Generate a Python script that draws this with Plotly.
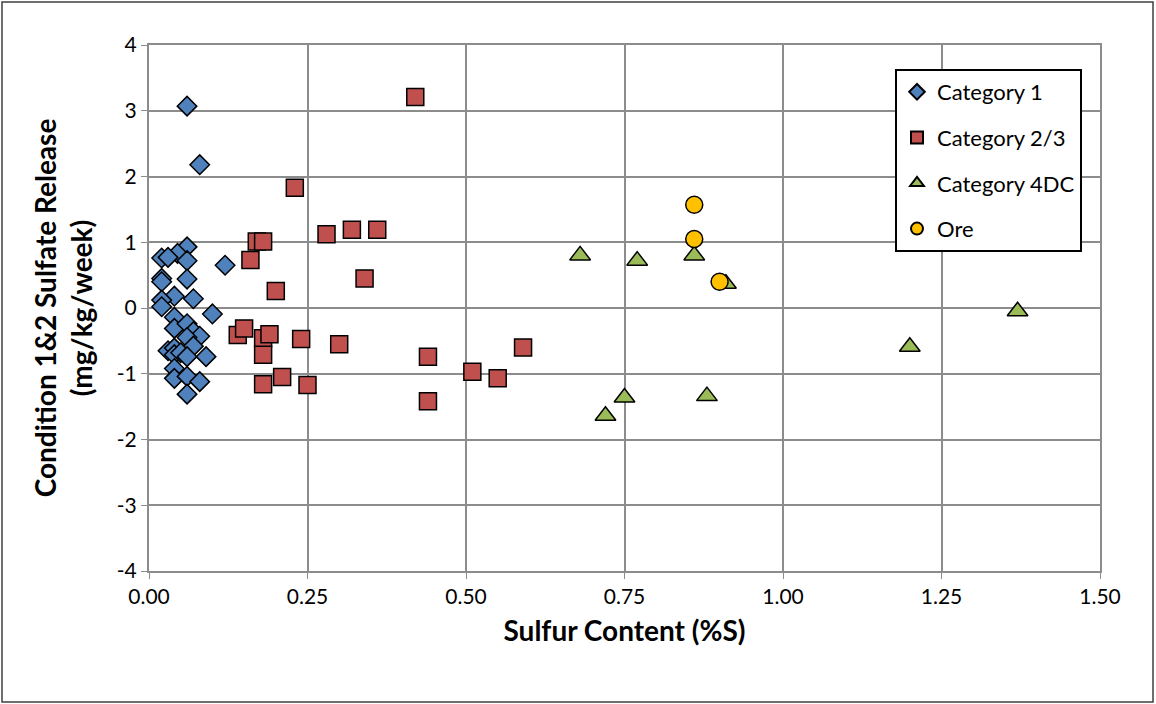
import plotly.graph_objects as go

cat1_x = [0.06, 0.08, 0.06, 0.045, 0.06, 0.02, 0.03, 0.02, 0.02, 0.06, 0.12, 0.04, 0.02, 0.02, 0.07,
          0.10, 0.04, 0.04, 0.06, 0.07, 0.08, 0.06, 0.07, 0.03, 0.04, 0.04, 0.05, 0.06, 0.09,
          0.04, 0.04, 0.06, 0.08, 0.06]
cat1_y = [3.07, 2.18, 0.93, 0.83, 0.72, 0.76, 0.77, 0.45, 0.40, 0.44, 0.65, 0.18, 0.12, 0.02, 0.14,
          -0.09, -0.14, -0.31, -0.24, -0.36, -0.43, -0.45, -0.58, -0.65, -0.61, -0.71, -0.68, -0.74, -0.74,
          -0.92, -1.07, -1.04, -1.12, -1.31]

cat23_x = [0.42, 0.23, 0.17, 0.18, 0.16, 0.28, 0.32, 0.36, 0.20, 0.34, 0.14, 0.15, 0.18, 0.19,
           0.18, 0.24, 0.30, 0.18, 0.21, 0.25, 0.44, 0.44, 0.51, 0.55, 0.59]
cat23_y = [3.21, 1.83, 1.01, 1.01, 0.73, 1.12, 1.19, 1.19, 0.26, 0.45, -0.41, -0.31, -0.46, -0.40,
           -0.71, -0.47, -0.55, -1.16, -1.05, -1.17, -0.74, -1.42, -0.97, -1.07, -0.60]

cat4_x = [0.68, 0.77, 0.86, 0.91, 0.72, 0.75, 0.88, 1.20, 1.37]
cat4_y = [0.80, 0.72, 0.80, 0.37, -1.64, -1.36, -1.34, -0.59, -0.05]

ore_x = [0.86, 0.86, 0.90]
ore_y = [1.57, 1.05, 0.40]

x_ticks = [0, 0.25, 0.5, 0.75, 1.0, 1.25, 1.5]
x_labels = ["0.00", "0.25", "0.50", "0.75", "1.00", "1.25", "1.50"]
y_ticks = [-4, -3, -2, -1, 0, 1, 2, 3, 4]
y_labels = ["-4", "-3", "-2", "-1", "0", "1", "2", "3", "4"]

FONT = "Lato, Carlito, Calibri, 'Liberation Sans', sans-serif"
line = dict(color="black", width=1.5)

fig = go.Figure()
fig.add_trace(go.Scatter(x=cat1_x, y=cat1_y, mode="markers", name="Category 1", legendgroup="a",
                         marker=dict(symbol="diamond", size=15, color="#4F81BD", line=line)))
fig.add_trace(go.Scatter(x=cat23_x, y=cat23_y, mode="markers", name="Category 2/3", legendgroup="b",
                         marker=dict(symbol="square", size=17, color="#C0504D", line=line)))
fig.add_trace(go.Scatter(x=cat4_x, y=cat4_y, mode="markers", name="Category 4DC", legendgroup="c",
                         marker=dict(symbol="triangle-up", size=18, color="#9BBB59", line=line)))
fig.add_trace(go.Scatter(x=ore_x, y=ore_y, mode="markers", name="Ore", legendgroup="d",
                         marker=dict(symbol="circle", size=17, color="#FFC000", line=line)))

W, H = 1156, 704
L, R, T, B = 149, 1100, 45, 571
pw, ph = R - L, B - T

def px(xp):
    return (xp - L) / pw

def py(yp):
    return (B - yp) / ph

fig.update_layout(
    width=W, height=H,
    margin=dict(l=L, r=W - R, t=T, b=H - B),
    paper_bgcolor="white", plot_bgcolor="white",
    font=dict(family=FONT, size=21, color="black"),
    showlegend=True,
    legend=dict(x=px(895), y=py(69), xanchor="left", yanchor="top",
                bordercolor="black", borderwidth=2, bgcolor="white",
                font=dict(family=FONT, size=22, color="black"),
                tracegroupgap=14, itemsizing="constant", itemwidth=30),
    xaxis=dict(range=[0, 1.5], tickvals=x_ticks, ticktext=x_labels,
               showgrid=True, gridcolor="#8c8c8c", gridwidth=1.5,
               zeroline=False, showline=True, linecolor="#8c8c8c", linewidth=2, mirror=True,
               ticks="outside", ticklen=6, tickcolor="#8c8c8c",
               tickfont=dict(family=FONT, size=21),
               title=dict(text="<b>Sulfur Content (%S)</b>", font=dict(family=FONT, size=28), standoff=14)),
    yaxis=dict(range=[-4, 4], tickvals=y_ticks, ticktext=y_labels,
               showgrid=True, gridcolor="#8c8c8c", gridwidth=1.5,
               zeroline=False, showline=True, linecolor="#8c8c8c", linewidth=2, mirror=True,
               ticks="outside", ticklen=6, tickcolor="#8c8c8c",
               tickfont=dict(family=FONT, size=21),
               title=dict(text="<b>Condition 1&2 Sulfate Release<br>(mg/kg/week)</b>",
                          font=dict(family=FONT, size=28), standoff=16)),
    shapes=[dict(type="rect", xref="paper", yref="paper",
                 x0=px(2), x1=px(1153), y0=py(702), y1=py(2),
                 line=dict(color="#404040", width=1.5), fillcolor="rgba(0,0,0,0)", layer="below")],
)

fig.write_html("out.html", config={"displayModeBar": False},
               post_script="document.body.style.margin='0';document.body.style.overflow='hidden';")
